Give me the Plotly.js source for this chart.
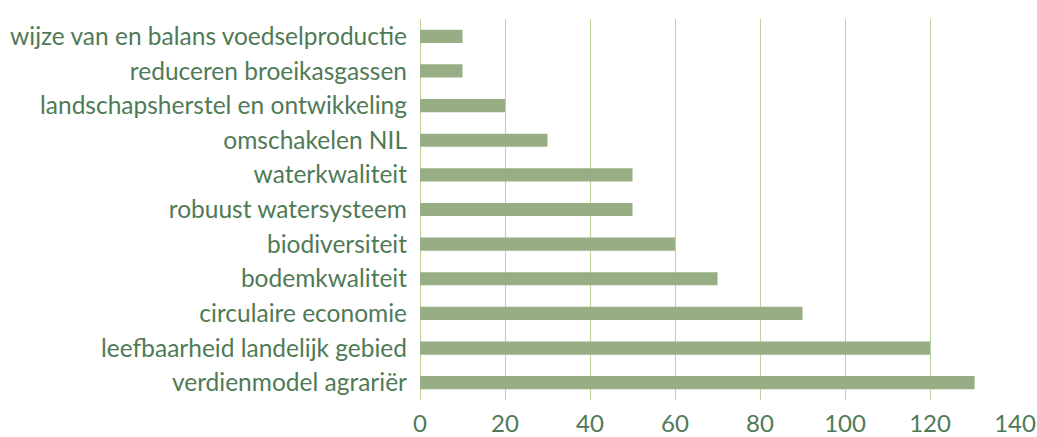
<!DOCTYPE html>
<html>
<head>
<meta charset="utf-8">
<script src="https://cdn.plot.ly/plotly-3.0.1.min.js"></script>
<style>
html,body{margin:0;padding:0;background:#fff;}
#chart{width:1037px;height:437px;}
</style>
</head>
<body>
<div id="chart"></div>
<script>
const categories = [
  "wijze van en balans voedselproductie",
  "reduceren broeikasgassen",
  "landschapsherstel en ontwikkeling",
  "omschakelen NIL",
  "waterkwaliteit",
  "robuust watersysteem",
  "biodiversiteit",
  "bodemkwaliteit",
  "circulaire economie",
  "leefbaarheid landelijk gebied",
  "verdienmodel agrariër"
];
const values = [10, 10, 20, 30, 50, 50, 60, 70, 90, 120, 130.5];
const tickValues = [0, 20, 40, 60, 80, 100, 120, 140];

const textColor = "#4f7a56";
const trace = {
  type: "bar",
  orientation: "h",
  x: values,
  y: categories,
  marker: {color: "#97ae85"},
  hoverinfo: "x+y"
};
const layout = {
  width: 1037,
  height: 437,
  margin: {l: 420, r: 22, t: 19, b: 37, pad: 0},
  paper_bgcolor: "#ffffff",
  plot_bgcolor: "#ffffff",
  bargap: 0.62,
  showlegend: false,
  font: {family: "Lato, 'Open Sans', sans-serif", color: textColor},
  xaxis: {
    range: [0, 140],
    tickvals: tickValues,
    ticktext: tickValues.map(String),
    showgrid: true,
    gridcolor: "#b9d39a",
    gridwidth: 1,
    zeroline: true,
    zerolinecolor: "#b9d39a",
    zerolinewidth: 1,
    showline: false,
    ticks: "",
    ticklabelstandoff: 7,
    tickfont: {size: 24, color: textColor},
    fixedrange: true
  },
  yaxis: {
    categoryorder: "array",
    categoryarray: categories.slice().reverse(),
    autorange: true,
    showgrid: false,
    zeroline: false,
    showline: false,
    ticks: "",
    ticklabelstandoff: 12,
    tickfont: {size: 24.5, color: textColor},
    fixedrange: true
  }
};
Plotly.newPlot("chart", [trace], layout, {displayModeBar: false, staticPlot: true});
</script>
</body>
</html>
